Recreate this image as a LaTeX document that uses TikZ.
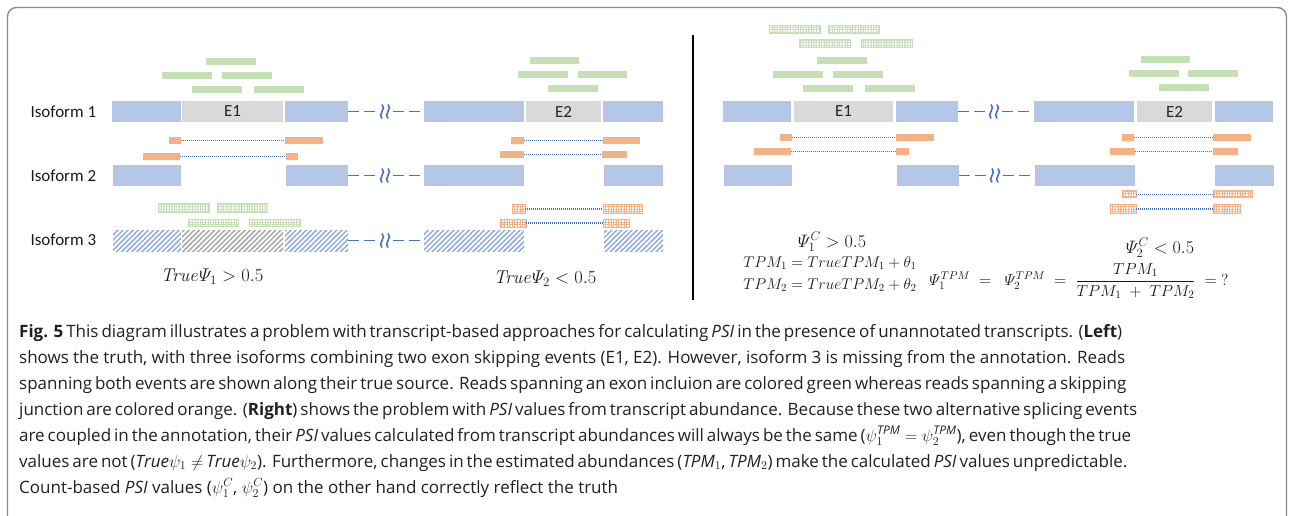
\RequirePackage{fix-cm}
\documentclass[tikz,border=0pt]{standalone}
\usepackage{amsmath}
\usepackage[no-math]{fontspec}
\setmainfont{Open Sans}
\newfontfamily\calib{Carlito}
\usetikzlibrary{patterns,patterns.meta}
\definecolor{exblue}{HTML}{B4C7E7}
\definecolor{exgray}{HTML}{D9D9D9}
\definecolor{rgreen}{HTML}{C5E0B4}
\definecolor{rgreenD}{HTML}{A9D18E}
\definecolor{rorange}{HTML}{F4B183}
\definecolor{hblue}{HTML}{8FAADC}
\definecolor{hgray}{HTML}{A6A6A6}
\definecolor{lblue}{HTML}{4472C4}
\definecolor{framec}{HTML}{8A8A8A}
\definecolor{txt}{HTML}{231F20}
\newcommand\bx[7]{\node[#1,minimum width={(#5-#3)*1pt},minimum height={(#6-#4)*1pt}] (#2) at (#3,#4) {#7};}
\newcommand\brksym[1]{\begin{scope}[shift={(#1)}]
\draw[brkst] (-3,-7) .. controls (2,-3) and (-8,3) .. (-3,7);
\draw[brkst] (3,-7) .. controls (8,-3) and (-2,3) .. (3,7);
\end{scope}}
\tikzset{
 bb/.style={rectangle,inner sep=0pt,outer sep=0pt,anchor=north west,draw=none},
 exon/.style={bb,fill=exblue},
 exgr/.style={bb,fill=exgray,font=\calib\fontsize{17}{20}\selectfont,text=black!85},
 hexon/.style={bb,pattern={Lines[angle=45,distance=3.6pt,line width=1.5pt]},pattern color=hblue},
 hgr/.style={bb,pattern={Lines[angle=45,distance=3.6pt,line width=1.5pt]},pattern color=hgray},
 gread/.style={bb,fill=rgreen},
 oread/.style={bb,fill=rorange},
 hgread/.style={bb,draw=rgreen,line width=1pt,pattern={Hatch[distance=2.6pt,line width=0.9pt]},pattern color=rgreen},
 horead/.style={bb,draw=rorange,line width=1pt,pattern={Hatch[distance=2.6pt,line width=0.9pt]},pattern color=rorange},
 dotl/.style={draw=lblue,line width=1.1pt,dash pattern=on 1pt off 1pt},
 conn/.style={draw=lblue,line width=1.4pt,dash pattern=on 11pt off 5pt},
 brkst/.style={draw=lblue,line width=1.6pt},
 lab/.style={anchor=west,font=\calib\fontsize{17}{20}\selectfont,text=black!90},
 mth/.style={text=black!90},
 captxt/.style={anchor=base west,inner sep=0pt,font=\fontsize{17}{20}\selectfont,text=txt}
}
\begin{document}
\begin{tikzpicture}[x=1pt,y=-1pt]
\useasboundingbox (0,0) rectangle (1294,516);
\draw[framec,line width=1.4pt,rounded corners=9pt] (7.5,516) -- (7.5,7.5) -- (1286.5,7.5) -- (1286.5,516);

% ---------- left panel ----------
\node[lab] (iso1) at (27,112) {Isoform 1};
\node[lab] (iso2) at (27,176) {Isoform 2};
\node[lab] (iso3) at (27,240) {Isoform 3};

\bx{exon}{L1a}{112}{101}{181}{122}{}
\bx{exgr}{L1e}{182}{101}{283}{122}{E1}
\bx{exon}{L1b}{285}{101}{348}{122}{}
\bx{exon}{L1c}{424}{101}{524}{122}{}
\bx{exgr}{L1f}{526}{101}{601}{122}{E2}
\bx{exon}{L1d}{603}{101}{663}{122}{}

\bx{exon}{L2a}{113}{165}{181}{186}{}
\bx{exon}{L2b}{286}{165}{348}{186}{}
\bx{exon}{L2c}{424}{165}{524}{186}{}
\bx{exon}{L2d}{604}{165}{663}{186}{}

\bx{hexon}{L3a}{113}{230}{181}{251}{}
\bx{hgr}{L3e}{182}{230}{283}{251}{}
\bx{hexon}{L3b}{285}{230}{348}{251}{}
\bx{hexon}{L3c}{424}{230}{524}{251}{}
\bx{hexon}{L3d}{604}{230}{663}{251}{}

\coordinate (kL1) at (385,111.5);
\coordinate (kL2) at (385,175.5);
\coordinate (kL3) at (385,240.5);
\draw[conn] (L1b.east) -- ([xshift=-8pt]kL1);
\draw[conn] ([xshift=8pt]kL1) -- (L1c.west);
\draw[conn] (L2b.east) -- ([xshift=-8pt]kL2);
\draw[conn] ([xshift=8pt]kL2) -- (L2c.west);
\draw[conn] (L3b.east) -- ([xshift=-8pt]kL3);
\draw[conn] ([xshift=8pt]kL3) -- (L3c.west);
\brksym{kL1}\brksym{kL2}\brksym{kL3}

% green reads left
\bx{gread}{lg1}{206}{58}{256}{65}{}
\bx{gread}{lg2}{162}{72}{212}{79}{}
\bx{gread}{lg3}{222}{72}{272}{79}{}
\bx{gread}{lg4}{192}{86}{242}{93}{}
\bx{gread}{lg5}{254}{86}{304}{93}{}
\bx{gread}{lg6}{530}{57}{579}{64}{}
\bx{gread}{lg7}{518}{71}{568}{78}{}
\bx{gread}{lg8}{578}{71}{627}{78}{}
\bx{gread}{lg9}{548}{85}{598}{92}{}

% orange reads left
\bx{oread}{lo1a}{169}{137}{181}{144}{}
\bx{oread}{lo1b}{285}{137}{323}{144}{}
\bx{oread}{lo2a}{143}{153}{180}{160}{}
\bx{oread}{lo2b}{286}{153}{298}{160}{}
\bx{oread}{lo3a}{511}{137}{524}{144}{}
\bx{oread}{lo3b}{603}{137}{640}{144}{}
\bx{oread}{lo4a}{500}{151}{524}{158}{}
\bx{oread}{lo4b}{602}{151}{627}{158}{}
\draw[dotl] (lo1a.east) -- (lo1b.west);
\draw[dotl] (lo2a.east) -- (lo2b.west);
\draw[dotl] (lo3a.east) -- (lo3b.west);
\draw[dotl] (lo4a.east) -- (lo4b.west);

% hatched reads isoform 3
\bx{hgread}{lh1}{158}{204}{209}{212}{}
\bx{hgread}{lh2}{217}{204}{267}{212}{}
\bx{hgread}{lh3}{188}{219}{238}{226}{}
\bx{hgread}{lh4}{249}{219}{300}{226}{}
\bx{horead}{lh5a}{512}{205}{525}{213}{}
\bx{horead}{lh5b}{603}{205}{642}{213}{}
\bx{horead}{lh6a}{500}{219}{526}{227}{}
\bx{horead}{lh6b}{603}{219}{629}{227}{}
\draw[dotl] (lh5a.east) -- (lh5b.west);
\draw[dotl] (lh6a.east) -- (lh6b.west);

\node[mth,font=\fontsize{18.5}{22}\selectfont] (tp1) at (212,277) {$\mathit{True}\varPsi_1 > 0.5$};
\node[mth,font=\fontsize{18.5}{22}\selectfont] (tp2) at (545,279) {$\mathit{True}\varPsi_2 < 0.5$};

% divider
\draw[line width=2.4pt] (693,35) -- (693,300);

% ---------- right panel ----------
\bx{hgread}{rh1}{769}{26}{820}{34}{}
\bx{hgread}{rh2}{828}{26}{879}{34}{}
\bx{hgread}{rh3}{799}{40}{850}{48}{}
\bx{hgread}{rh4}{861}{40}{912}{48}{}

\bx{gread}{rg1}{817}{57}{867}{64}{}
\bx{gread}{rg2}{773}{71}{823}{78}{}
\bx{gread}{rg3}{833}{71}{883}{78}{}
\bx{gread}{rg4}{803}{85}{853}{92}{}
\bx{gread}{rg5}{865}{85}{915}{92}{}
\bx{gread}{rg6}{1141}{56}{1190}{63}{}
\bx{gread}{rg7}{1129}{70}{1179}{77}{}
\bx{gread}{rg8}{1188}{70}{1238}{77}{}
\bx{gread}{rg9}{1159}{84}{1209}{91}{}

\bx{exon}{R1a}{723}{101}{791}{122}{}
\bx{exgr}{R1e}{794}{101}{893}{122}{E1}
\bx{exon}{R1b}{896}{101}{958}{122}{}
\bx{exon}{R1c}{1034}{101}{1134}{122}{}
\bx{exgr}{R1f}{1137}{101}{1212}{122}{E2}
\bx{exon}{R1d}{1215}{101}{1273}{122}{}

\bx{exon}{R2a}{724}{165}{792}{186}{}
\bx{exon}{R2b}{897}{165}{959}{186}{}
\bx{exon}{R2c}{1035}{165}{1135}{186}{}
\bx{exon}{R2d}{1215}{165}{1274}{186}{}

\coordinate (kR1) at (994,111.5);
\coordinate (kR2) at (995,175.5);
\draw[conn] (R1b.east) -- ([xshift=-8pt]kR1);
\draw[conn] ([xshift=8pt]kR1) -- (R1c.west);
\draw[conn] (R2b.east) -- ([xshift=-8pt]kR2);
\draw[conn] ([xshift=8pt]kR2) -- (R2c.west);
\brksym{kR1}\brksym{kR2}

\bx{oread}{ro1a}{780}{134}{792}{141}{}
\bx{oread}{ro1b}{896}{134}{934}{141}{}
\bx{oread}{ro2a}{754}{148}{791}{155}{}
\bx{oread}{ro2b}{896}{148}{909}{155}{}
\bx{oread}{ro3a}{1122}{134}{1134}{141}{}
\bx{oread}{ro3b}{1213}{134}{1251}{141}{}
\bx{oread}{ro4a}{1110}{148}{1135}{155}{}
\bx{oread}{ro4b}{1213}{148}{1238}{155}{}
\draw[dotl] (ro1a.east) -- (ro1b.west);
\draw[dotl] (ro2a.east) -- (ro2b.west);
\draw[dotl] (ro3a.east) -- (ro3b.west);
\draw[dotl] (ro4a.east) -- (ro4b.west);

\bx{horead}{rh5a}{1122}{191}{1136}{198}{}
\bx{horead}{rh5b}{1213}{191}{1252}{198}{}
\bx{horead}{rh6a}{1110}{205}{1136}{213}{}
\bx{horead}{rh6b}{1213}{205}{1240}{213}{}
\draw[dotl] (rh5a.east) -- (rh5b.west);
\draw[dotl] (rh6a.east) -- (rh6b.west);

\node[mth,font=\fontsize{18}{22}\selectfont] (pc1) at (832,242) {$\varPsi_1^{C} > 0.5$};
\node[mth,font=\fontsize{15.5}{18}\selectfont] (tm1) at (830,263) {$TPM_1 = TrueTPM_1 + \theta_1$};
\node[mth,font=\fontsize{15.5}{18}\selectfont] (tm2) at (830,285) {$TPM_2 = TrueTPM_2 + \theta_2$};
\node[mth,font=\fontsize{18}{22}\selectfont] (pc2) at (1160,248) {$\varPsi_2^{C} < 0.5$};
\node[mth,font=\fontsize{16}{19}\selectfont] (ptpm) at (1079,281) {$\varPsi_1^{TPM} \;=\;\; \varPsi_2^{TPM} \;=\; \dfrac{TPM_1}{TPM_1 \;+\; TPM_2} \;=\; ?$};

% ---------- caption ----------
\node[captxt] (c1) at (19,337) {\makebox[1103pt][s]{\textbf{Fig. 5} This diagram illustrates a problem with transcript-based approaches for calculating \textit{PSI} in the presence of unannotated transcripts. (\textbf{Left})}};
\node[captxt] (c2) at (19,363) {\makebox[1106pt][s]{shows the truth, with three isoforms combining two exon skipping events (E1, E2). However, isoform 3 is missing from the annotation. Reads}};
\node[captxt] (c3) at (19,389) {\makebox[1098pt][s]{spanning both events are shown along their true source. Reads spanning an exon incluion are colored green whereas reads spanning a skipping}};
\node[captxt] (c4) at (19,415) {\makebox[1106pt][s]{junction are colored orange. (\textbf{Right}) shows the problem with \textit{PSI} values from transcript abundance. Because these two alternative splicing events}};
\node[captxt] (c5) at (19,441) {\makebox[1106pt][s]{are coupled in the annotation, their \textit{PSI} values calculated from transcript abundances will always be the same ($\psi_1^{\textit{TPM}} = \psi_2^{\textit{TPM}}$), even though the true}};
\node[captxt] (c6) at (19,467) {\makebox[1108pt][s]{values are not (\textit{True}$\psi_1 \neq$ \textit{True}$\psi_2$). Furthermore, changes in the estimated abundances (\textit{TPM}$_1$, \textit{TPM}$_2$) make the calculated \textit{PSI} values unpredictable.}};
\node[captxt] (c7) at (19,493) {Count-based \textit{PSI} values ($\psi_1^C$, $\psi_2^C$) on the other hand correctly reflect the truth};
\end{tikzpicture}
\end{document}
